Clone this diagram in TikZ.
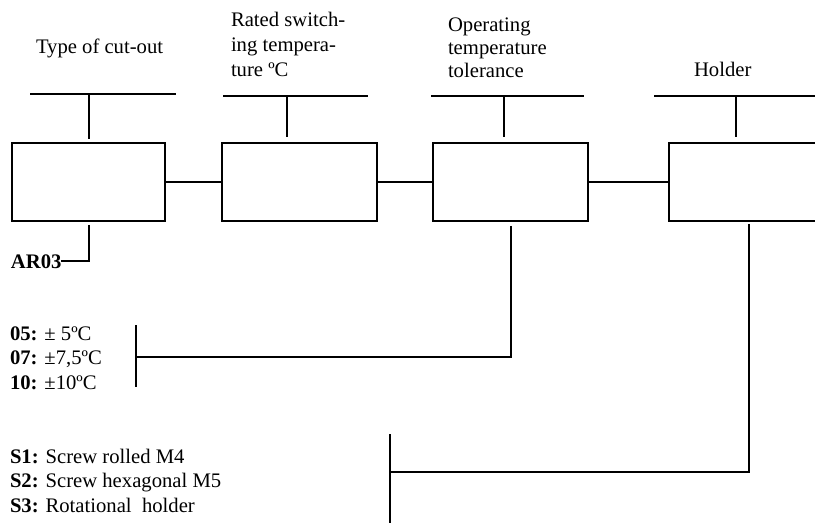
\documentclass[tikz,border=0pt]{standalone}
\usepackage{fontspec}
\setmainfont{Liberation Serif}
\usetikzlibrary{positioning}

\begin{document}
\begin{tikzpicture}[
    x=0.6pt, y=-0.6pt,
    line width=1.2pt,
    box/.style={draw, minimum width=#1, minimum height=46.8pt, inner sep=0pt},
    box/.default=93pt,
    label/.style={inner sep=0pt, align=left, anchor=base west,
                  font=\fontsize{12.4}{14.6}\selectfont},
]
\clip (0,0) rectangle (815,523);

% Boxes
\node[box=91.8pt] (cutout) at (88.5,182) {};
\node[box] (temp) at (299.5,182) {};
\node[box] (tol) at (510.5,182) {};
\node[box=96pt] (holder) at (749,182) {};

% Arrows
\draw (cutout) -- (temp);
\draw (temp) -- (tol);
\draw (tol) -- (holder);

% Headings (base = last line)
\node[label] (cutout-txt) at (35,54) {Type of cut-out};
\node[label, font=\fontsize{12.4}{15}\selectfont] (temp-txt) at (230,77) {Rated switch-\\ing tempera-\\ture ºC};
\node[label, font=\fontsize{12.4}{13.8}\selectfont] (tol-txt) at (447,78) {Operating\\temperature\\tolerance};
\node[label] (holder-txt) at (693,77) {Holder};

% Heading bars
\coordinate (cutout-bar) at (89,94);
\coordinate (temp-bar) at (287,96);
\coordinate (tol-bar) at (504,96);
\coordinate (holder-bar) at (736,96);
\draw (30,94) -- (176,94);
\draw (223,96) -- (368,96);
\draw (431,96) -- (584,96);
\draw (654,96) -- (830,96);
\draw[shorten >=1.8pt] (cutout-bar) -- (cutout-bar |- cutout.north);
\draw[shorten >=3pt] (temp-bar) -- (temp-bar |- temp.north);
\draw[shorten >=3pt] (tol-bar) -- (tol-bar |- tol.north);
\draw[shorten >=3pt] (holder-bar) -- (holder-bar |- holder.north);

% Codes
\node[label, font=\fontsize{12.4}{14.6}\selectfont\bfseries] (ar03) at (10,268) {AR03};
\node[label] (tol-list) at (9,389)
    {\textbf{05:} ± 5ºC\\\textbf{07:} ±7,5ºC\\\textbf{10:} ±10ºC};
\node[label] (holder-list) at (9,512)
    {\textbf{S1:} Screw rolled M4\\\textbf{S2:} Screw hexagonal M5\\\textbf{S3:} Rotational\ \ holder};

% Code brackets
\coordinate (tol-code) at (136,357);
\coordinate (holder-code) at (390,472);
\draw (cutout.south) ++(0,3) |- ([xshift=-1pt]ar03.east);
\draw (tol.south) ++(0,4) |- (tol-code);
\draw (tol-code) ++(0,-32) -- ++(0,62);
\draw (holder.south) ++(0,2) |- (holder-code);
\draw (holder-code) ++(0,-38) -- ++(0,100);
\end{tikzpicture}
\end{document}
